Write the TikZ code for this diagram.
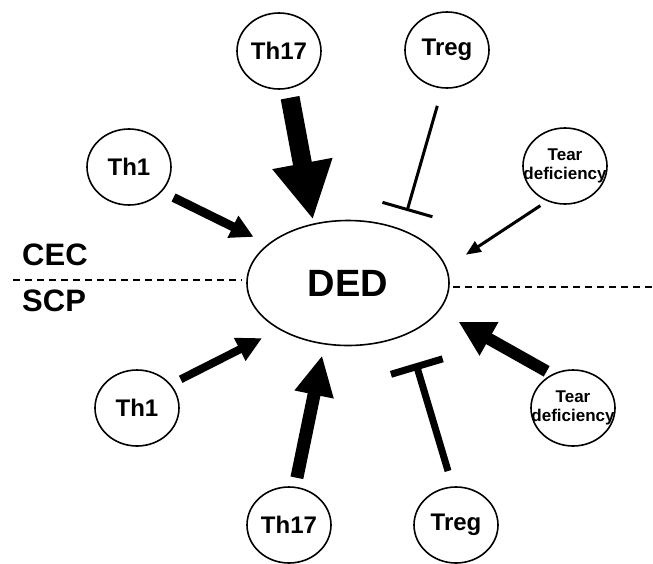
\documentclass[tikz,border=0pt]{standalone}
\usepackage{fontspec}
\setmainfont{Liberation Sans}
\usepackage{tikz}
\usetikzlibrary{positioning,shapes.geometric,arrows.meta}

\tikzset{
  cell/.style={draw, ellipse, line width=1.6pt, minimum width=84pt, minimum height=76pt,
    inner sep=0pt, font=\bfseries\fontsize{24}{28}\selectfont},
  teartext/.style={align=center, inner sep=0pt, font=\bfseries\fontsize{17}{19}\selectfont},
  dedshape/.style={draw, ellipse, line width=1.6pt, minimum width=202pt, minimum height=125pt,
    inner sep=0pt, font=\bfseries\fontsize{38}{44}\selectfont},
  zone/.style={inner sep=0pt, font=\bfseries\fontsize{31}{36}\selectfont},
  act/.style n args={3}{line width=#1, -{Triangle[length=#2, width=#3]}},
  block/.style n args={2}{line width=#1, -{Bar[width=#2]}},
  divider/.style={line width=1.5pt, dash pattern=on 7pt off 5pt},
}

\begin{document}
\begin{tikzpicture}[x=1pt,y=1pt,yscale=-1,xscale=1]
\useasboundingbox (0,0) rectangle (653,563);

%Shape: Ellipse [DED]
\node[dedshape] (ded) at (348,283) {DED};

%Shape: Ellipse [upper cells]
\node[cell] (th17a) at (279,51) {Th17};
\node[cell] (trega) at (447,50) {Treg};
\node[cell] (th1a) at (129,167) {Th1};
\node[cell, label={[teartext]center:Tear\\deficiency}] (teara) at (565,166) {};

%Shape: Ellipse [lower cells]
\node[cell] (th1b) at (137,408) {Th1};
\node[cell] (th17b) at (289,525) {Th17};
\node[cell] (tregb) at (456,525) {Treg};
\node[cell, label={[teartext]center:Tear\\deficiency}] (tearb) at (573,408) {};

% Text Node
\node[zone, anchor=west] (cec) at (22,255) {CEC};
% Text Node
\node[zone, anchor=west] (scp) at (22,301) {SCP};

%Straight Lines [dashed border]
\coordinate (cecend) at (13,280);
\coordinate (scpend) at (653,287);
\draw[divider, shorten >=4pt] (cecend) -- (cecend -| ded.west);
\draw[divider, shorten <=3pt] (scpend -| ded.east) -- (scpend);

%Arrows [upper]
\draw[act={19pt}{57pt}{57pt}, shorten <=9pt, shorten >=4pt] (th17a.-76) -- (ded.120);
\draw[block={3pt}{52pt}, shorten <=18pt, shorten >=19pt] (trega.-97) -- (ded.45);
\draw[act={9pt}{23pt}{23pt}, shorten <=13pt, shorten >=16pt] (th1a.-37) -- (ded.154);
\draw[act={3pt}{15pt}{12pt}, shorten <=8pt, shorten >=23pt] (teara.-117) -- (ded.9);

%Arrows [lower]
\draw[act={8pt}{25pt}{24pt}, shorten <=11pt, shorten >=19pt] (th1b.35) -- (ded.214);
\draw[act={13pt}{40pt}{37pt}, shorten <=9pt, shorten >=11pt] (th17b.81) -- (ded.-111);
\draw[block={7pt}{54pt}, shorten <=16pt, shorten >=30pt] (tregb.95) -- (ded.-41);
\draw[act={12pt}{35pt}{36pt}, shorten <=6pt, shorten >=22pt] (tearb.122) -- (ded.-17);

\end{tikzpicture}
\end{document}
